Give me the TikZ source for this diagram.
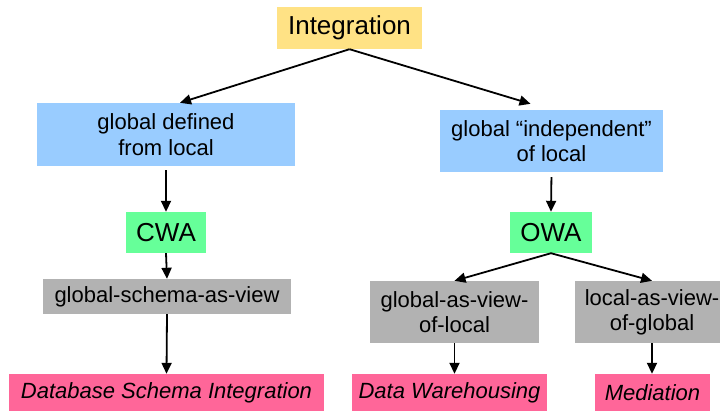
\documentclass[tikz,border=0pt]{standalone}
\usepackage{fontspec}
\setmainfont{Liberation Sans}
\usetikzlibrary{arrows.meta,calc}

\definecolor{topyellow}{HTML}{FFE285}
\definecolor{approachblue}{HTML}{99CCFF}
\definecolor{assumgreen}{HTML}{66FF99}
\definecolor{methodgray}{HTML}{B2B2B2}
\definecolor{apppink}{HTML}{FF6699}

\tikzset{
  box/.style={inner sep=0pt, align=center, font=\fontsize{22}{25.3}\selectfont},
  bigbox/.style={box, font=\fontsize{26}{30}\selectfont},
  topbox/.style={bigbox, fill=topyellow},
  approach/.style={box, fill=approachblue},
  assumption/.style={bigbox, fill=assumgreen},
  method/.style={box, fill=methodgray},
  application/.style={box, fill=apppink, font=\fontsize{22}{25.3}\selectfont\itshape},
  link/.style={line width=1.8pt, -{Triangle[length=11pt,width=10pt]}}
}

\begin{document}
\begin{tikzpicture}[x=1pt,y=-1pt]
  \useasboundingbox[fill=white] (0,0) rectangle (720,410);

  % root
  \node[topbox, minimum width=145pt, minimum height=42pt] (integ) at (349.5,28) {Integration};

  % two approaches
  \node[approach, minimum width=258pt, minimum height=63pt] (gdl) at (166,134.5)
    {global defined\\from local};
  \node[approach, minimum width=223pt, minimum height=62pt] (gil) at (551.5,141)
    {global “independent”\\of local};

  % world assumptions
  \node[assumption, minimum width=80pt, minimum height=41pt] (cwa) at (166,232.5) {CWA};
  \node[assumption, minimum width=82pt, minimum height=41pt] (owa) at (551,232.5) {OWA};

  % mapping styles
  \node[method, minimum width=248pt, minimum height=35pt] (gsv) at (167,296.5) {global-schema-as-view};
  \node[method, minimum width=169pt, minimum height=62pt] (gvl) at (454.5,312) {global-as-view-\\of-local};
  \node[method, minimum width=154pt, minimum height=62pt] (lvg) at (652,312) {local-as-view-\\of-global};

  % applications
  \node[application, minimum width=315pt, minimum height=38pt] (dsi) at (166.5,393) {Database Schema Integration};
  \node[application, minimum width=195pt, minimum height=38pt] (dw) at (449.5,393) {Data Warehousing};
  \node[application, minimum width=115pt, minimum height=38pt] (med) at (652.5,393) {Mediation};

  % connectors
  \draw[link] (integ.south) -- ($(gdl.north)+(14,0)$);
  \draw[link] (integ.south) -- ($(gil.north)+(-21,-6)$);

  \draw[link, shorten <=4pt] (gdl.south) -- (cwa.north);
  \draw[link] (cwa.south) -- (gsv.north);
  \draw[link] (gsv.south) -- (dsi.north);

  \draw[link, shorten <=5pt] (gil.south) -- (owa.north);
  \draw[link] (owa.south) -- (gvl.north);
  \draw[link] (owa.south) -- (lvg.north);
  \draw[link] (gvl.south) -- (gvl.south |- dw.north);
  \draw[link] (lvg.south) -- (lvg.south |- med.north);
\end{tikzpicture}
\end{document}
